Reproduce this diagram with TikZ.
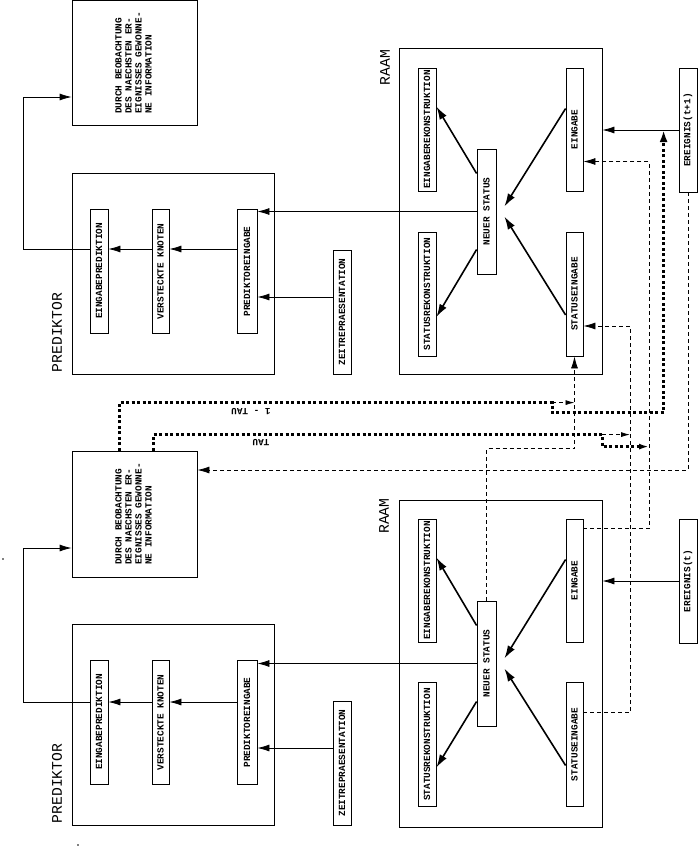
\documentclass[tikz,border=0pt]{standalone}
\usepackage{fontspec}
\setmonofont{Liberation Mono}
\usetikzlibrary{arrows.meta,positioning}
\newcommand{\hoch}[1]{\rotatebox{90}{#1}}
\newcommand{\klein}{\fontsize{9.4}{10}\selectfont\ttfamily\bfseries}
\newcommand{\gross}{\fontsize{14.7}{16}\selectfont\ttfamily}

\begin{document}
\begin{tikzpicture}[x=1pt,y=-1pt,line width=0.8pt,
		rahmen/.style={draw,inner sep=0pt},
		feld/.style={rahmen,minimum width=18pt,minimum height=124pt,font=\klein},
		titel/.style={rotate=90,font=\gross,inner sep=0pt},
		pfeil/.style={-{Latex[length=12pt,width=7pt]}},
		kpfeil/.style={-{Latex[length=9pt,width=5pt]}},
		diag/.style={-{Latex[length=13pt,width=8pt]},line width=1.6pt},
		strich/.style={dash pattern=on 4pt off 3pt},
		punkt/.style={line width=3pt,dash pattern=on 3pt off 2.5pt}]
		\useasboundingbox (0,0) rectangle (698,847);
		\coordinate (reiheo) at (0,249);
		\coordinate (zeito) at (0,297);
		\coordinate (reiheu) at (0,702);
		\coordinate (zeitu) at (0,748);
		% oben: zeitpunkt t+1
		\node[rahmen,minimum width=125pt,minimum height=125pt,font=\klein] (infoo) at (134.5,63)
			{\hoch{\begin{tabular}{@{}l@{}}DURCH BEOBACHTUNG\\DES NAECHSTEN ER-\\EIGNISSES GEWONNE-\\NE INFORMATION\end{tabular}}};
		\node[rahmen,minimum width=202pt,minimum height=201pt] (predo) at (173,273.5) {};
		\node[titel] (tpo) at (57,332.5) {PREDIKTOR};
		\node[feld] (epo) at (99,271) {\hoch{EINGABEPREDIKTION}};
		\node[feld,minimum width=17pt] (vko) at (160.5,271.5) {\hoch{VERSTECKTE KNOTEN}};
		\node[feld,minimum width=20pt] (pio) at (247,271.5) {\hoch{PREDIKTOREINGABE}};
		\node[feld] (zro) at (342,312) {\hoch{ZEITREPRAESENTATION}};
		\node[rahmen,minimum width=203pt,minimum height=326pt] (raamo) at (500.5,211) {};
		\node[titel] (tro) at (385,67.5) {RAAM};
		\node[feld,minimum height=123pt] (ero) at (427,129.5) {\hoch{EINGABEREKONSTRUKTION}};
		\node[feld] (sro) at (427,294) {\hoch{STATUSREKONSTRUKTION}};
		\node[feld,minimum width=19pt,minimum height=125pt] (nso) at (486.5,211.5) {\hoch{NEUER STATUS}};
		\node[feld,minimum width=17pt,minimum height=123pt] (ego) at (574.5,129.5) {\hoch{EINGABE}};
		\node[feld,minimum width=17pt] (seo) at (574.5,294) {\hoch{STATUSEINGABE}};
		\node[feld] (evo) at (688,130) {\hoch{EREIGNIS(t+1)}};
		% unten: zeitpunkt t
		\node[rahmen,minimum width=125pt,minimum height=126pt,font=\klein] (infou) at (134.5,514)
			{\hoch{\begin{tabular}{@{}l@{}}DURCH BEOBACHTUNG\\DES NAECHSTEN ER-\\EIGNISSES GEWONNE-\\NE INFORMATION\end{tabular}}};
		\node[rahmen,minimum width=202pt,minimum height=201pt] (predu) at (173,724.5) {};
		\node[titel] (tpu) at (57,783.5) {PREDIKTOR};
		\node[feld] (epu) at (99,722) {\hoch{EINGABEPREDIKTION}};
		\node[feld,minimum width=17pt] (vku) at (160.5,722.5) {\hoch{VERSTECKTE KNOTEN}};
		\node[feld,minimum width=20pt] (piu) at (247,722.5) {\hoch{PREDIKTOREINGABE}};
		\node[feld] (zru) at (342,763) {\hoch{ZEITREPRAESENTATION}};
		\node[rahmen,minimum width=203pt,minimum height=327pt] (raamu) at (500.5,663.5) {};
		\node[titel] (tru) at (384,516) {RAAM};
		\node[feld,minimum height=123pt] (eru) at (427,580.5) {\hoch{EINGABEREKONSTRUKTION}};
		\node[feld] (sru) at (427,744.5) {\hoch{STATUSREKONSTRUKTION}};
		\node[feld,minimum width=19pt,minimum height=125pt] (nsu) at (486.5,663.5) {\hoch{NEUER STATUS}};
		\node[feld,minimum width=17pt,minimum height=123pt] (egu) at (574.5,580.5) {\hoch{EINGABE}};
		\node[feld,minimum width=17pt] (seu) at (574.5,744.5) {\hoch{STATUSEINGABE}};
		\node[feld] (evu) at (688,581) {\hoch{EREIGNIS(t)}};
		% verbindungen oben
		\draw[pfeil] (pio.west |- reiheo) -- (vko.east |- reiheo);
		\draw[pfeil] (vko.west |- reiheo) -- (epo.east |- reiheo);
		\draw[pfeil] (epo.west |- reiheo) -- ++(-66,0) |- ([yshift=-34pt]infoo.west);
		\draw[pfeil] (nso.west) -- (nso.west -| pio.east);
		\draw[pfeil] (zro.west |- zeito) -- (pio.east |- zeito);
		\draw[pfeil] (evo.west) -- (evo.west -| raamo.east);
		\draw[diag] ([yshift=38pt]nso.west) -- ([yshift=23pt]ero.east);
		\draw[diag] ([yshift=-38pt]nso.west) -- ([yshift=-23pt]sro.east);
		\draw[diag] ([yshift=21pt]ego.west) -- ([xshift=8pt,yshift=5pt]nso.east);
		\draw[diag] ([yshift=-21pt]seo.west) -- ([xshift=8pt,yshift=-5pt]nso.east);
		% verbindungen unten
		\draw[pfeil] (piu.west |- reiheu) -- (vku.east |- reiheu);
		\draw[pfeil] (vku.west |- reiheu) -- (epu.east |- reiheu);
		\draw[pfeil] (epu.west |- reiheu) -- ++(-66,0) |- ([yshift=-34pt]infou.west);
		\draw[pfeil] (nsu.west) -- (nsu.west -| piu.east);
		\draw[pfeil] (zru.west |- zeitu) -- (piu.east |- zeitu);
		\draw[pfeil] (evu.west) -- (evu.west -| raamu.east);
		\draw[diag] ([yshift=38pt]nsu.west) -- ([yshift=23pt]eru.east);
		\draw[diag] ([yshift=-38pt]nsu.west) -- ([yshift=-23pt]sru.east);
		\draw[diag] ([yshift=21pt]egu.west) -- ([xshift=8pt,yshift=5pt]nsu.east);
		\draw[diag] ([yshift=-21pt]seu.west) -- ([xshift=8pt,yshift=-5pt]nsu.east);
		% rueckkopplung t -> t+1
		\draw[strich,pfeil] (nsu.north) -- ++(0,-152) -| (seo.south);
		\draw[strich,pfeil] ([yshift=32pt]seu.east) -- ++(47,0) |- ([yshift=-32pt]seo.east);
		\draw[strich,pfeil] ([yshift=52pt]egu.east) -- ++(66,0) |- ([yshift=-32pt]ego.east);
		\draw[strich,pfeil] (evo.south) |- ([yshift=44pt]infou.east);
		% gewichtung
		\coordinate (tau1) at ([xshift=-15pt]evo.west);
		\draw[punkt,-{Latex[length=12pt,width=8pt]}] ([xshift=-15.5pt]infou.north) -- ++(0,-48) -- ++(433,0) coordinate (ta) -- ++(0,10) -| (tau1);
		\draw[strich,kpfeil] (ta) -- (ta -| seo.south);
		\draw[punkt,-{Latex[length=10pt,width=6pt]}] ([xshift=18.5pt]infou.north) -- ++(0,-16) -- ++(449,0) coordinate (tb) -- ++(0,12) -- ++(47,0);
		\draw[strich,kpfeil] (tb) -- ++(28,0);
		\node[rotate=180,font=\klein] (leinstau) at (251,412) {1 - TAU};
		\node[rotate=180,font=\klein] (ltau) at (261,443) {TAU};
		\fill (3,559) circle (0.8pt);
		\fill (78,845) circle (0.8pt);
	\end{tikzpicture}
\end{document}
